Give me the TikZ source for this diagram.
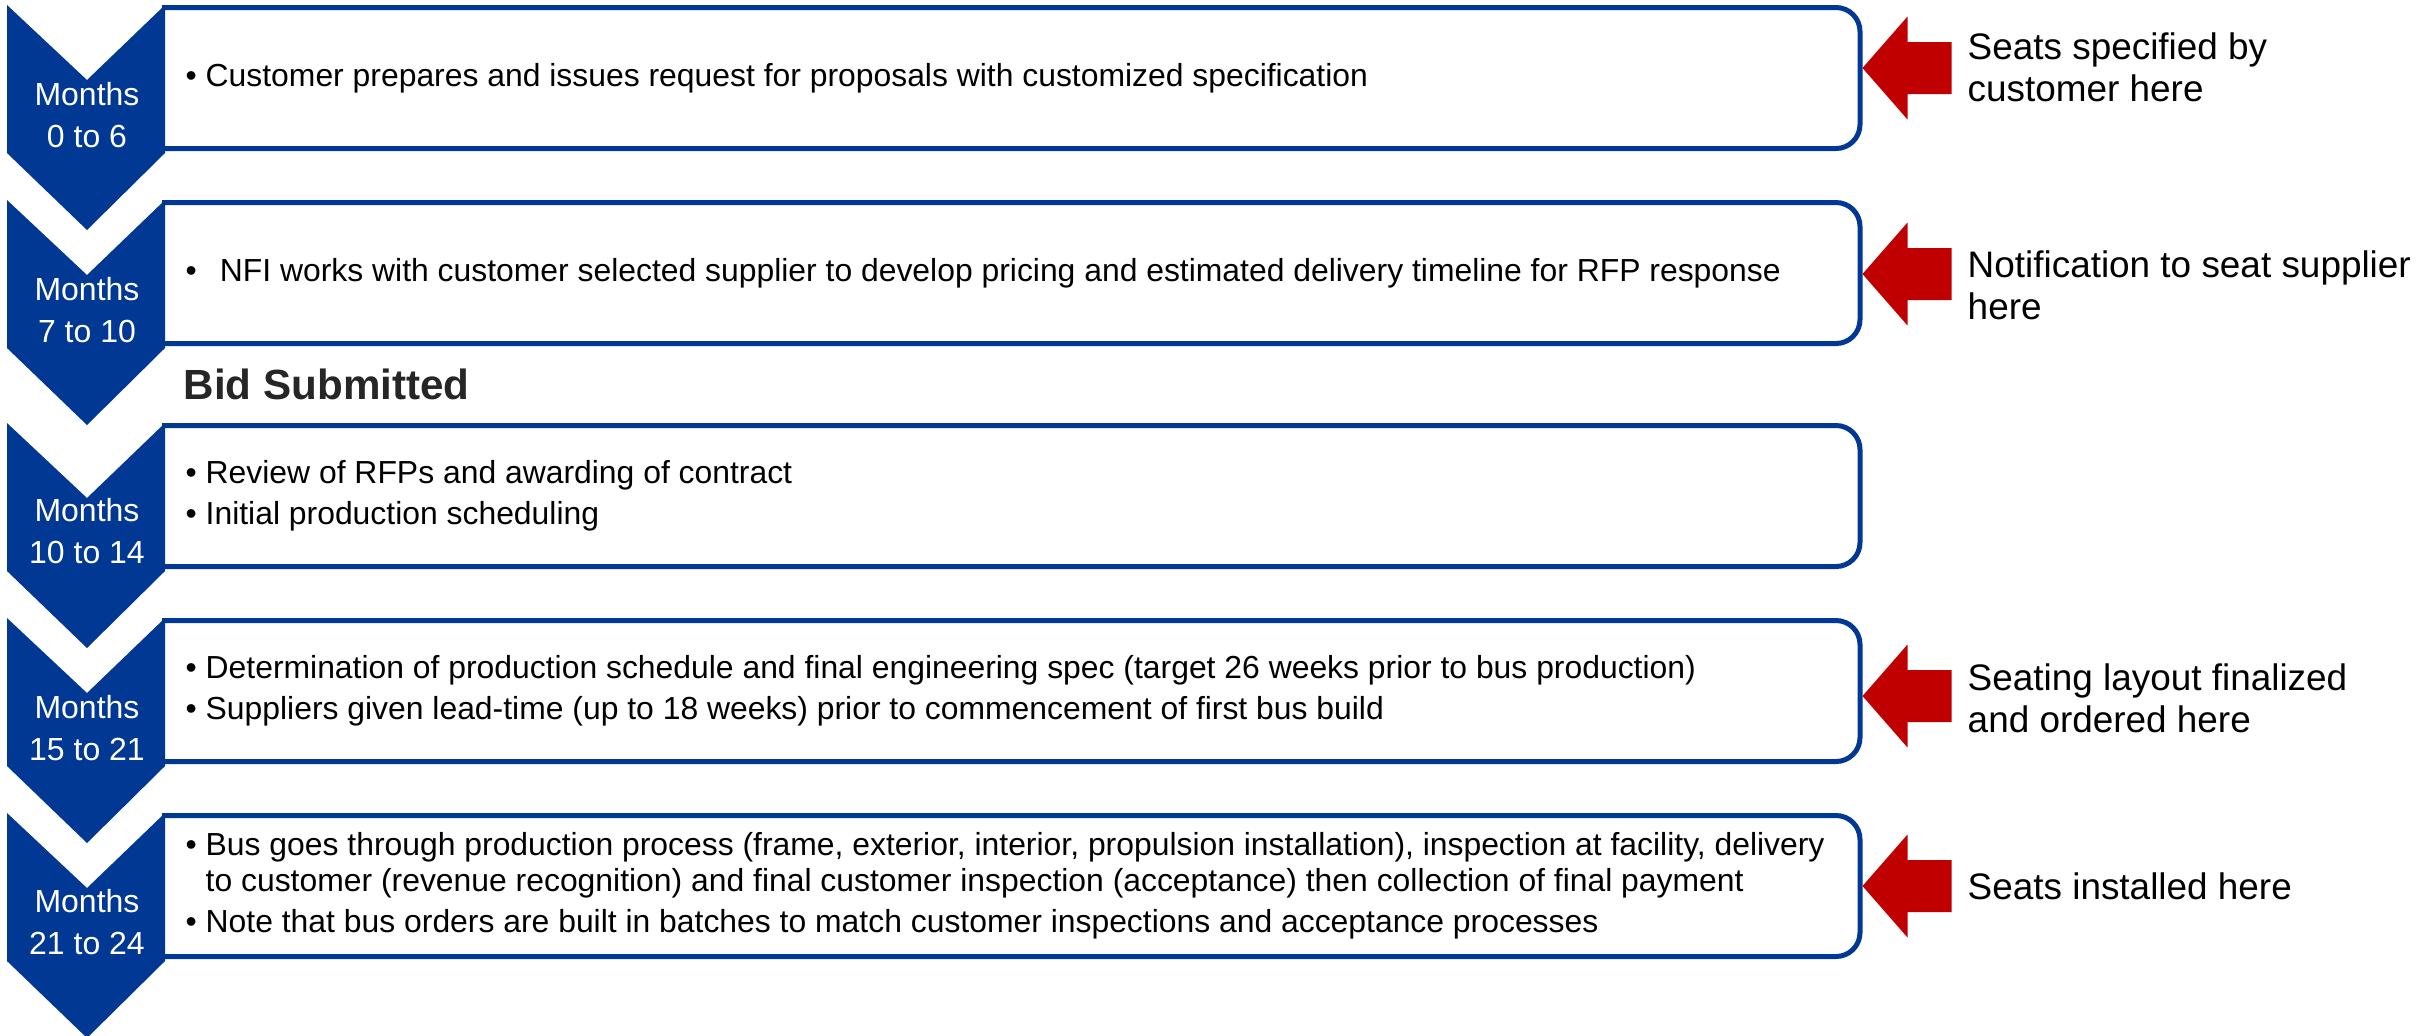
\documentclass[tikz,border=0pt]{standalone}
\usepackage{fontspec}
\setmainfont{Liberation Sans}
\definecolor{nfiblue}{RGB}{0, 56, 147}
\definecolor{seatred}{RGB}{192, 0, 0}
\definecolor{bidgray}{RGB}{38, 38, 38}
\usepackage{tikz}
\usetikzlibrary{positioning, calc}

\begin{document}
\begin{tikzpicture}[
  phasebox/.style={minimum width=16.98cm, minimum height=1.41cm, inner sep=0pt, outer sep=0pt},
  boxline/.style={draw=nfiblue, line width=0.05cm, rounded corners=0.24cm},
  chevfill/.style={fill=nfiblue},
  monthtext/.style={text=white, align=center, inner sep=0pt, font=\fontsize{9.1pt}{12.2pt}\selectfont},
  bullettext/.style={anchor=west, align=left, inner sep=0pt, font=\fontsize{9.07pt}{10.2pt}\selectfont},
  notetext/.style={anchor=west, align=left, inner sep=0pt, font=\fontsize{10.5pt}{12pt}\selectfont},
  seatarrow/.style={fill=seatred}
]
  \useasboundingbox (0,0) rectangle (24.2,-10.35);

  % phase boxes
  \node[phasebox] (b1) at (10.11,-0.78) {};
  \node[phasebox] (b2) at (10.11,-2.73) {};
  \node[phasebox] (b3) at (10.11,-4.96) {};
  \node[phasebox] (b4) at (10.11,-6.91) {};
  \node[phasebox] (b5) at (10.11,-8.86) {};
  \draw[boxline] (b1.north west) -- (b1.north east) -- (b1.south east) -- (b1.south west);
  \draw[boxline] (b2.north west) -- (b2.north east) -- (b2.south east) -- (b2.south west);
  \draw[boxline] (b3.north west) -- (b3.north east) -- (b3.south east) -- (b3.south west);
  \draw[boxline] (b4.north west) -- (b4.north east) -- (b4.south east) -- (b4.south west);
  \draw[boxline] (b5.north west) -- (b5.north east) -- (b5.south east) -- (b5.south west);

  % month chevrons
  \fill[chevfill] (0.07,-0.05) -- (0.87,-0.80) -- (1.65,-0.05) -- (1.65,-1.53) -- (0.87,-2.30) -- (0.07,-1.53) -- cycle;
  \fill[chevfill] (0.07,-2.00) -- (0.87,-2.75) -- (1.65,-2.00) -- (1.65,-3.48) -- (0.87,-4.25) -- (0.07,-3.48) -- cycle;
  \fill[chevfill] (0.07,-4.23) -- (0.87,-4.98) -- (1.65,-4.23) -- (1.65,-5.71) -- (0.87,-6.48) -- (0.07,-5.71) -- cycle;
  \fill[chevfill] (0.07,-6.18) -- (0.87,-6.93) -- (1.65,-6.18) -- (1.65,-7.66) -- (0.87,-8.43) -- (0.07,-7.66) -- cycle;
  \fill[chevfill] (0.07,-8.13) -- (0.87,-8.88) -- (1.65,-8.13) -- (1.65,-9.61) -- (0.87,-10.38) -- (0.07,-9.61) -- cycle;
  \node[monthtext] (m1) at (0.87,-1.15) {Months\\0 to 6};
  \node[monthtext] (m2) at (0.87,-3.10) {Months\\7 to 10};
  \node[monthtext] (m3) at (0.87,-5.31) {Months\\10 to 14};
  \node[monthtext] (m4) at (0.87,-7.28) {Months\\15 to 21};
  \node[monthtext] (m5) at (0.87,-9.22) {Months\\21 to 24};

  % box contents
  \node[bullettext, right=0.23cm of b1.west] (t1) {• Customer prepares and issues request for proposals with customized specification};
  \node[bullettext, right=0.23cm of b2.west] (t2) {•\hspace{0.23cm}NFI works with customer selected supplier to develop pricing and estimated delivery timeline for RFP response};
  \node[font=\bfseries\fontsize{12pt}{14pt}\selectfont, text=bidgray, anchor=west, inner sep=0pt] (bid) at (1.83,-3.84) {Bid Submitted};
  \node[bullettext, right=0.23cm of b3.west] (t3) {• Review of RFPs and awarding of contract\\[0.05cm]
    • Initial production scheduling};
  \node[bullettext, right=0.23cm of b4.west] (t4) {• Determination of production schedule and final engineering spec (target 26 weeks prior to bus production)\\[0.05cm]
    • Suppliers given lead-time (up to 18 weeks) prior to commencement of first bus build};
  \node[bullettext, right=0.23cm of b5.west] (t5) {• Bus goes through production process (frame, exterior, interior, propulsion installation), inspection at facility, delivery\\
    \hphantom{• }to customer (revenue recognition) and final customer inspection (acceptance) then collection of final payment\\[0.05cm]
    • Note that bus orders are built in batches to match customer inspections and acceptance processes};

  % seat notes
  \node[notetext, right=1.07cm of b1.east, yshift=0.11cm] (n1) {Seats specified by\\customer here};
  \node[notetext, right=1.07cm of b2.east, yshift=-0.12cm] (n2) {Notification to seat supplier\\here};
  \node[notetext, right=1.07cm of b4.east, yshift=-0.07cm] (n4) {Seating layout finalized\\and ordered here};
  \node[notetext, right=1.07cm of b5.east] (n5) {Seats installed here};
  \fill[seatarrow] ($(b1.east)+(0.025,0.10)$) -- ++(0.45,0.515) -- ++(0,-0.255) -- ++(0.44,0) -- ++(0,-0.52) -- ++(-0.44,0) -- ++(0,-0.255) -- cycle;
  \fill[seatarrow] ($(b2.east)+(0.025,-0.01)$) -- ++(0.45,0.515) -- ++(0,-0.255) -- ++(0.44,0) -- ++(0,-0.52) -- ++(-0.44,0) -- ++(0,-0.255) -- cycle;
  \fill[seatarrow] ($(b4.east)+(0.025,-0.05)$) -- ++(0.45,0.515) -- ++(0,-0.255) -- ++(0.44,0) -- ++(0,-0.52) -- ++(-0.44,0) -- ++(0,-0.255) -- cycle;
  \fill[seatarrow] ($(b5.east)+(0.025,0)$) -- ++(0.45,0.515) -- ++(0,-0.255) -- ++(0.44,0) -- ++(0,-0.52) -- ++(-0.44,0) -- ++(0,-0.255) -- cycle;
\end{tikzpicture}
\end{document}
